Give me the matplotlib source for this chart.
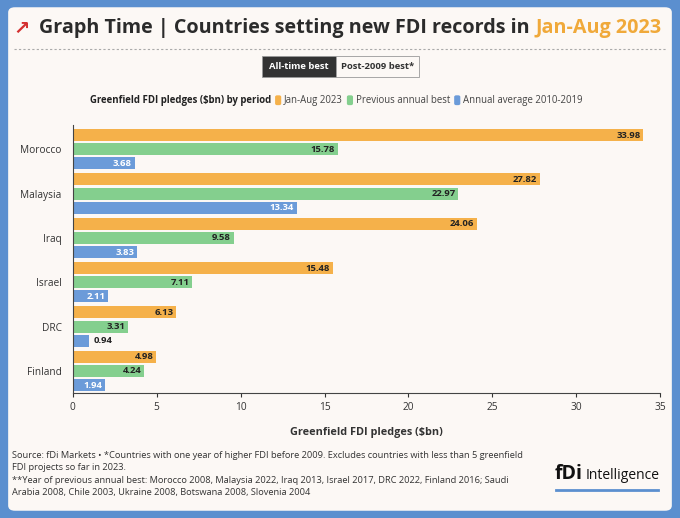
import numpy as np
import matplotlib.pyplot as plt
from matplotlib.patches import FancyBboxPatch, Rectangle

countries = ["Morocco", "Malaysia", "Iraq", "Israel", "DRC", "Finland"]
jan_aug_2023 = [33.98, 27.82, 24.06, 15.48, 6.13, 4.98]
prev_best = [15.78, 22.97, 9.58, 7.11, 3.31, 4.24]
avg_2010_2019 = [3.68, 13.34, 3.83, 2.11, 0.94, 1.94]
series_names = ["Jan-Aug 2023", "Previous annual best", "Annual average 2010-2019"]
colors = ["#f5b14a", "#84cf8e", "#6b9bd9"]

plt.rcParams['font.family'] = ['Open Sans', 'DejaVu Sans']

fig = plt.figure(figsize=(6.8, 5.18), dpi=100)
fig.patch.set_facecolor("#5b8fcf")
card = FancyBboxPatch((0.012, 0.014), 0.976, 0.972, boxstyle="round,pad=0,rounding_size=0.01",
                      transform=fig.transFigure, facecolor="#fcf8f5", edgecolor="none", zorder=-10)
fig.patches.append(card)

ax = fig.add_axes([0.107, 0.241, 0.864, 0.518])
ax.set_facecolor("#fcf8f5")

y = np.arange(len(countries))
h = 0.27
off = 0.32
for i, (vals, c) in enumerate(zip([jan_aug_2023, prev_best, avg_2010_2019], colors)):
    pos = y + (i - 1) * off
    ax.barh(pos, vals, height=h, color=c, label=series_names[i])
    for p, v in zip(pos, vals):
        if v < 1.5:
            ax.text(v + 0.3, p, f"{v:.2f}", ha="left", va="center", fontsize=6.8,
                    fontweight="bold", color="#222222")
        else:
            ax.text(v - 0.15, p, f"{v:.2f}", ha="right", va="center", fontsize=6.8, fontweight="bold",
                    color="white" if i == 2 else "#222222")

ax.set_ylim(len(countries) - 0.5, -0.55)
ax.set_xlim(0, 35)
ax.set_xticks(range(0, 36, 5))
ax.set_yticks(y)
ax.set_yticklabels(countries, fontsize=7.3, color="#333333")
ax.tick_params(axis="x", labelsize=7.3, colors="#333333", length=3)
ax.tick_params(axis="y", length=0, pad=8)
for s in ["top", "right"]:
    ax.spines[s].set_visible(False)
ax.spines["left"].set_color("#444444")
ax.spines["bottom"].set_color("#444444")
ax.set_xlabel("Greenfield FDI pledges ($bn)", fontsize=7.8, fontweight="bold", color="#333333", labelpad=10)

r = fig.canvas.get_renderer()
inv = fig.transFigure.inverted()

def chain(x, yy, parts, **kw):
    for s, c, extra in parts:
        t = fig.text(x, yy, s, color=c, va="center", **kw, **extra)
        bb = t.get_window_extent(r)
        x = inv.transform((bb.x1, bb.y0))[0]
    return x

# title
chain(0.058, 0.945, [("Graph Time | Countries setting new FDI records in ", "#2b2b2b", {}),
                     ("Jan-Aug 2023", "#f0a93a", {})], fontsize=14.2, fontweight="bold")
fig.text(0.02, 0.945, "\u2197", fontsize=14, color="#d43030", va="center", fontweight="bold")
fig.add_artist(plt.Line2D([0.02, 0.98], [0.905], color="#aaaaaa", lw=0.8, ls=(0, (2, 2))))

# toggle buttons
fig.patches.append(Rectangle((0.386, 0.852), 0.108, 0.04, transform=fig.transFigure,
                             facecolor="#333333", edgecolor="#999999", lw=0.6))
fig.patches.append(Rectangle((0.494, 0.852), 0.122, 0.04, transform=fig.transFigure,
                             facecolor="#fcf8f5", edgecolor="#999999", lw=0.6))
fig.text(0.440, 0.872, "All-time best", fontsize=6.8, fontweight="bold", color="white", ha="center", va="center")
fig.text(0.555, 0.872, "Post-2009 best*", fontsize=6.8, fontweight="bold", color="#333333", ha="center", va="center")

# legend row
x = chain(0.132, 0.806, [("Greenfield FDI pledges ($bn) by period", "#222222", {"fontweight": "bold"})], fontsize=6.9)
for c, n in zip(colors, series_names):
    x += 0.006
    fig.patches.append(FancyBboxPatch((x, 0.797), 0.009, 0.019, boxstyle="round,pad=0,rounding_size=0.003",
                                      transform=fig.transFigure, facecolor=c, edgecolor="none"))
    x = chain(x + 0.013, 0.806, [(n, "#444444", {})], fontsize=6.9)

# footer
foot = ("Source: fDi Markets \u2022 *Countries with one year of higher FDI before 2009. Excludes countries with less than 5 greenfield\n"
        "FDI projects so far in 2023.\n"
        "**Year of previous annual best: Morocco 2008, Malaysia 2022, Iraq 2013, Israel 2017, DRC 2022, Finland 2016; Saudi\n"
        "Arabia 2008, Chile 2003, Ukraine 2008, Botswana 2008, Slovenia 2004")
fig.text(0.018, 0.04, foot, fontsize=6.7, color="#333333", va="bottom", linespacing=1.5)
x = chain(0.815, 0.085, [("fDi", "#111111", {"fontsize": 14, "fontweight": "bold"})])
chain(x + 0.005, 0.083, [("Intelligence", "#111111", {"fontsize": 10})])
fig.add_artist(plt.Line2D([0.818, 0.968], [0.055], color="#5b8fcf", lw=2))

fig.savefig("out.png", dpi=100, facecolor=fig.get_facecolor())
